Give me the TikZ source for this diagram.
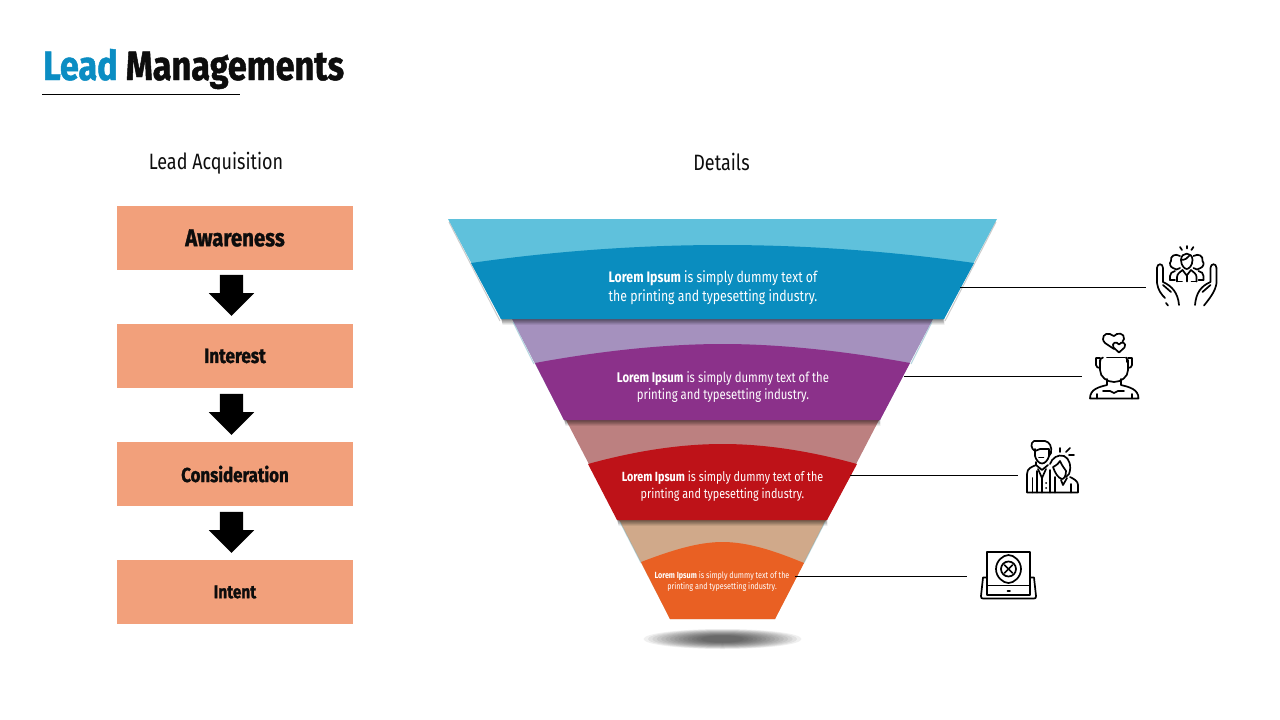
\documentclass[tikz,border=0pt]{standalone}
\usepackage{fontspec}
\setmainfont[FakeStretch=0.81]{Fira Sans}
\newfontfamily\boldcond[FakeStretch=0.81]{Fira Sans Bold}
\newfontfamily\heavycond[FakeStretch=0.835,FakeBold=1.2]{Fira Sans Bold}
\usetikzlibrary{shapes.arrows,calc}
\definecolor{ttlblue}{HTML}{0B8DC3}
\definecolor{boxfill}{HTML}{F2A07B}
\definecolor{cA}{HTML}{5FC1DC}\definecolor{cB}{HTML}{0A8DBF}
\definecolor{cC}{HTML}{A591BE}\definecolor{cD}{HTML}{8B318A}
\definecolor{cE}{HTML}{BC8080}\definecolor{cF}{HTML}{BE1218}
\definecolor{cG}{HTML}{D0A98A}\definecolor{cH}{HTML}{E96023}
\definecolor{ink}{HTML}{0D0D0D}
\tikzset{
  x=1pt,y=-1pt,
  stagebox/.style={fill=boxfill,minimum width=236pt,minimum height=64pt,inner sep=0,text=ink},
  downarrow/.style={single arrow,fill=black,rotate=-90,minimum height=41pt,single arrow head extend=11pt,
     inner ysep=11.5pt,inner xsep=0pt,text height=0pt,text depth=0pt,single arrow tip angle=90,shape border uses incircle=false},
  heading/.style={font=\fontsize{22.2}{26}\selectfont,text=ink,inner sep=0},
  bandtext/.style={align=center,text=white,inner sep=0},
  leader/.style={draw=black,line width=0.8pt},
  icon/.style={draw=black,line width=1.7pt,line cap=round,line join=round,fill=none},
}
\begin{document}
\begin{tikzpicture}
\useasboundingbox (0,0) rectangle (1280,720);
\fill[white] (0,0) rectangle (1280,720);
% title
\node[anchor=base west,inner sep=0,font=\heavycond\fontsize{41}{48}\selectfont,text=ink] (title) at (43,80) {\textcolor{ttlblue}{Lead} Managements};
\coordinate (ulA) at (42,94.5); \coordinate (ulB) at (240,94.5);
\draw[leader] (ulA) -- (ulB);
\node[heading] (h1) at (216,163) {Lead Acquisition};
\node[heading] (h2) at (721.5,162) {Details};
% boxes
\node[stagebox,font=\heavycond\fontsize{24.4}{28}\selectfont] (s1) at (235,238) {\raisebox{-1.5pt}{Awareness}};
\node[stagebox,font=\heavycond\fontsize{20.6}{24}\selectfont] (s2) at (235,356) {\raisebox{-1pt}{Interest}};
\node[stagebox,font=\heavycond\fontsize{20.2}{24}\selectfont] (s3) at (235,474) {\raisebox{-1pt}{Consideration}};
\node[stagebox,font=\heavycond\fontsize{18.4}{22}\selectfont] (s4) at (235,592) {\raisebox{-1.5pt}{Intent}};
\node[downarrow] (a1) at (231.5,289.5) {};
\node[downarrow] (a2) at (231.5,408.5) {};
\node[downarrow] (a3) at (231.5,526.5) {};
% ground shadow
\foreach \i in {0,...,13}{
  \fill[black,opacity=0.06] (722.5,639) ellipse ({79-\i*4.4} and {10-\i*0.5});
}
% funnel: pale bands
\fill[cA] (448,219) -- (997,219) -- (944,319) -- (501,319) -- cycle;
\fill[cC] (512,319) -- (933,319) -- (880,420) -- (564,420) -- cycle;
\fill[cE] (566,420) -- (879,420) -- (827,520) -- (618,520) -- cycle;
\fill[cG] (619,520) -- (826,520) -- (775,619) -- (670,619) -- cycle;
% band shadows
\foreach \i in {1,...,5}{
  \fill[black,opacity=0.11] ($(501,319)+(\i*0.3,\i*1.1)$) -- ($(944,319)+(\i*0.5-2,\i*1.1)$) -- (944,315) -- (501,315) -- cycle;
  \fill[black,opacity=0.11] ($(564,420)+(\i*0.3,\i*1.1)$) -- ($(880,420)+(\i*0.5-2,\i*1.1)$) -- (880,416) -- (564,416) -- cycle;
  \fill[black,opacity=0.11] ($(617,520)+(\i*0.3,\i*1.1)$) -- ($(827,520)+(\i*0.5-2,\i*1.1)$) -- (827,516) -- (617,516) -- cycle;
}
% side shadows
\draw[black!40,line width=1pt,opacity=0.5] (449,222) -- (500,321);
\draw[black!40,line width=1pt,opacity=0.5] (996,222) -- (945,321);
\draw[cA!70!gray,line width=1pt,opacity=0.5] (513,322) -- (534,364);
\draw[cA!70!gray,line width=1pt,opacity=0.5] (932,322) -- (911,364);
\draw[cA!70!gray,line width=1pt,opacity=0.4] (620,522) -- (641,563);
\draw[cA!70!gray,line width=1pt,opacity=0.4] (825,522) -- (804,563);
% dark band shapes
\fill[cB] (471,263) .. controls (555,251) and (640,245) .. (722.5,245) .. controls (805,245) and (890,251) .. (974,263) -- (944,319) -- (501,319) -- cycle;
\fill[cD] (535,363) .. controls (600,351) and (665,344) .. (722.5,344) .. controls (780,344) and (845,351) .. (910,363) -- (880,420) -- (564,420) -- cycle;
\fill[cF] (588,464) .. controls (635,451) and (680,444) .. (722.5,444) .. controls (765,444) and (810,451) .. (857,464) -- (827,520) -- (617,520) -- cycle;
\fill[cH] (641,562) .. controls (670,551) and (697,542) .. (722.5,542) .. controls (748,542) and (775,551) .. (804,563) -- (775,619) -- (670,619) -- cycle;
% band text
\node[bandtext,font=\fontsize{15.2}{18.5}\selectfont] (t1) at (713,287.5) {{\boldcond Lorem Ipsum} is simply dummy text of\\the printing and typesetting industry.};
\node[bandtext,font=\fontsize{14}{17}\selectfont] (t2) at (723,387) {{\boldcond Lorem Ipsum} is simply dummy text of the\\printing and typesetting industry.};
\node[bandtext,font=\fontsize{13.3}{17}\selectfont] (t3) at (722.5,486.5) {{\boldcond Lorem Ipsum} is simply dummy text of the\\printing and typesetting industry.};
\node[bandtext,font=\fontsize{8.9}{11.5}\selectfont] (t4) at (722,581.5) {{\boldcond Lorem Ipsum} is simply dummy text of the\\printing and typesetting industry.};
% leaders
\coordinate (l1a) at (960,287.5); \coordinate (l1b) at (1146,287.5);
\coordinate (l2a) at (904,376.5); \coordinate (l2b) at (1082,376.5);
\coordinate (l3a) at (850,475.5); \coordinate (l3b) at (1018,475.5);
\coordinate (l4a) at (795,576.5); \coordinate (l4b) at (967,576.5);
\draw[leader] (l1a) -- (l1b);
\draw[leader] (l2a) -- (l2b);
\draw[leader] (l3a) -- (l3b);
\draw[leader] (l4a) -- (l4b);
% icon 1: people in hands
\begin{scope}[icon]
\draw (1157,268) .. controls (1157,263) and (1163,263) .. (1163,268) -- (1163,282) .. controls (1172,286) and (1178,293) .. (1179,305);
\draw (1157,268) -- (1157,283) .. controls (1158,290) and (1161,294) .. (1165,298);
\draw (1166,303) -- (1168,305.5);
\draw (1163,285) -- (1171,292);
\draw (1216.5,268) .. controls (1216.5,263) and (1210.5,263) .. (1210.5,268) -- (1210.5,282) .. controls (1201,286) and (1196,293) .. (1195,305);
\draw (1216.5,268) -- (1216.5,283) .. controls (1215.5,291) and (1210,298) .. (1204,305.5);
\draw (1210.5,285) -- (1202.5,292);
\draw (1186.7,246) -- (1186.7,248.5);
\draw (1180,247) -- (1182,250);
\draw (1193.4,247) -- (1191.4,250);
% centre head
\draw (1181,260) .. controls (1181,251.5) and (1192.5,251.5) .. (1192.5,260) .. controls (1192.5,266) and (1188.5,269) .. (1186.7,269) .. controls (1185,269) and (1181,266) .. (1181,260);
\draw (1181,260) .. controls (1185,260) and (1188,258) .. (1189.5,255.5);
% side heads
\draw (1180,256) .. controls (1175,253) and (1170,256) .. (1171,261) .. controls (1169,263) and (1170,267) .. (1173,268) .. controls (1175,270) and (1178,270) .. (1180,268);
\draw (1193.5,256) .. controls (1198.5,253) and (1203.5,256) .. (1202.5,261) .. controls (1204.5,263) and (1203.5,267) .. (1200.5,268) .. controls (1198.5,270) and (1195.5,270) .. (1193.5,268);
% bodies
\draw (1170,280) -- (1170,276) .. controls (1170,273) and (1172,272) .. (1175,271);
\draw (1203.5,280) -- (1203.5,276) .. controls (1203.5,273) and (1201.5,272) .. (1198.5,271);
\draw (1170,280) -- (1175,280);\draw (1198.5,280) -- (1203.5,280);
\draw (1177,281.5) -- (1177,277) .. controls (1177,274) and (1180,272) .. (1182.5,270) -- (1186.7,275.5) -- (1191,270) .. controls (1193.5,272) and (1196.5,274) .. (1196.5,277) -- (1196.5,281.5);
\draw (1177,281.5) -- (1182,281.5);\draw (1191.5,281.5) -- (1196.5,281.5);
\draw (1186.7,275.5) -- (1186.7,281.5);
\end{scope}
% icon 2: head with hearts
\begin{scope}[icon]
\draw (1114,349) -- (1105,343) .. controls (1100,338) and (1105,332) .. (1110,334) .. controls (1112,335) and (1113,336) .. (1114,336) .. controls (1117,332) and (1125,333) .. (1124,339) -- (1122.5,341.5);
\draw (1119,352.5) -- (1113.5,347.5) .. controls (1111,343) and (1116.5,340.5) .. (1119,344.5) .. controls (1121.5,340.5) and (1127,343) .. (1124.5,347.5) -- (1119,352.5);
\draw (1107,357.5) -- (1125,357.5);
\draw (1100,362) .. controls (1100,359) and (1101,358) .. (1103,357.5);
\draw (1127,362) .. controls (1127,359) and (1127,358) .. (1126,357.5);
\draw (1100,360) -- (1100,370) .. controls (1100,377) and (1107,382) .. (1114,382) .. controls (1121,382) and (1128,377) .. (1128,370) -- (1128,360);
\draw (1100,358) -- (1096,358) -- (1096,365) .. controls (1096,367) and (1098,368) .. (1100,368);
\draw (1128,358) -- (1132,358) -- (1132,365) .. controls (1132,367) and (1130,368) .. (1128,368);
\draw (1107,379) -- (1107,385) .. controls (1099,387) and (1090,389) .. (1090,398.5) -- (1138.5,398.5) .. controls (1138.5,389) and (1129,387) .. (1121,385) -- (1121,379);
\draw (1103,391) -- (1110,391) -- (1114,393) -- (1118,391) -- (1124,391);
\draw (1097,398.5) -- (1097,394);\draw (1132,398.5) -- (1132,394);
\end{scope}
% icon 3: couple
\begin{scope}[icon]
\draw (1035,451) .. controls (1031,449) and (1030,443) .. (1034,441) -- (1045,441) .. controls (1050,442) and (1052,447) .. (1051,453) -- (1049,456);
\draw (1035,449) -- (1035,456) .. controls (1036,460) and (1039,463.5) .. (1042,463.5) .. controls (1045,463.5) and (1048,460) .. (1049,456) -- (1049,449) -- (1040,449) -- (1035,451);
\draw (1039,457.5) -- (1043.5,457.5);
\draw (1036,462) -- (1036,465) .. controls (1032,467) and (1027,468) .. (1027,474) -- (1027,492.5) -- (1078,492.5) -- (1078,485) .. controls (1078,481) and (1074,479) .. (1070,477);
\draw (1036,465) -- (1042,470) -- (1048,465);
\draw (1038,469) -- (1042,478) -- (1046,469);
\draw (1042,478) -- (1042,492.5);
\draw (1032.5,478) -- (1032.5,492.5);
\draw (1037,471) -- (1037,492.5);
\draw (1050,470) -- (1050,492.5);
\draw (1055,477) -- (1055,492.5);
\draw (1071,484) -- (1071,492.5);
\draw (1050,464) .. controls (1052,458) and (1058,454) .. (1064,456) .. controls (1069,458) and (1072,466) .. (1069,474) -- (1066,477);
\draw (1053,467) .. controls (1057,465) and (1059,463) .. (1060,461) .. controls (1062,466) and (1065,469) .. (1066,471) .. controls (1066,476) and (1064,479) .. (1062,479) .. controls (1058,478) and (1055,473) .. (1053,467);
\draw (1061,480) -- (1063,485) -- (1067,478);
\draw (1060,448) -- (1060,452);
\draw (1070,448) -- (1066,452);
\draw (1069,455) -- (1074,455);
\fill[black,draw=none] (1046,483) circle (1pt) (1046,488) circle (1pt);
\end{scope}
% icon 4: tablet with cross
\begin{scope}[icon]
\draw (987,552) -- (1030,552) -- (1030,595) -- (987,595) -- cycle;
\draw (987,585.5) -- (1030,585.5);
\draw (987,577.5) -- (983,577.5) -- (981,596) .. controls (981,598) and (981.5,598.5) .. (983,598.5) -- (1034,598.5) .. controls (1035.5,598.5) and (1036,598) .. (1036,596) -- (1034,577.5) -- (1030,577.5);
\draw (1008.5,555) .. controls (1014,555) and (1021,561) .. (1021,569) .. controls (1021,577) and (1014,583) .. (1008.5,583) .. controls (1003,583) and (996,577) .. (996,569) .. controls (996,561) and (1003,555) .. (1008.5,555) -- cycle;
\draw (1008.5,569) circle (7.5pt);
\draw (1004.5,565) -- (1012.5,573);
\draw (1012.5,565) -- (1004.5,573);
\draw (1007.5,591) -- (1010,591);
\end{scope}
\end{tikzpicture}
\end{document}
